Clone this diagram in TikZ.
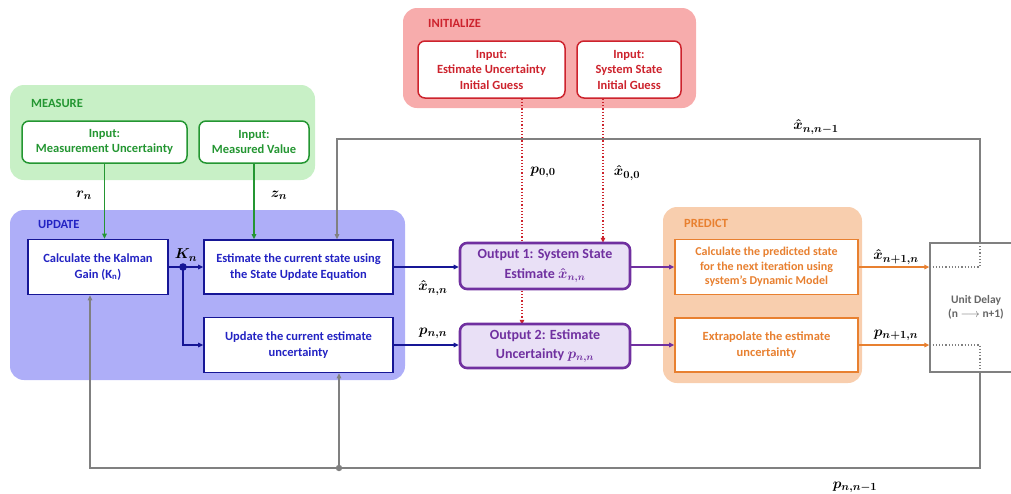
\documentclass[tikz,border=0pt]{standalone}
\usepackage[no-math]{fontspec}
\setmainfont{Carlito}
\usepackage{bm}
\usetikzlibrary{arrows.meta}
\definecolor{greenfill}{RGB}{200,240,198}
\definecolor{greenline}{RGB}{36,150,50}
\definecolor{redfill}{RGB}{247,172,172}
\definecolor{redline}{RGB}{205,35,45}
\definecolor{bluefill}{RGB}{174,174,248}
\definecolor{bluetext}{RGB}{35,35,195}
\definecolor{blueline}{RGB}{22,22,150}
\definecolor{purp}{RGB}{112,48,160}
\definecolor{purpfill}{RGB}{233,224,246}
\definecolor{orfill}{RGB}{248,206,174}
\definecolor{orline}{RGB}{232,128,48}
\definecolor{grayline}{RGB}{128,128,128}
\newcommand\boxfont{\bfseries\fontsize{12.5}{15.5}\selectfont}
\newcommand\regfont{\bfseries\fontsize{12.5}{14}\selectfont}
\newcommand\mathlbl{\fontsize{15.5}{17}\selectfont}
\tikzset{
  arr/.tip={Triangle[length=5pt,width=4.5pt]},
  region/.style={rounded corners=14pt},
  reglabel/.style={font=\regfont, anchor=west, inner sep=0pt},
  procbox/.style={draw, fill=white, line width=1.6pt, align=center, font=\boxfont, inner sep=1pt},
  inbox/.style={procbox, rounded corners=7pt, line width=1.5pt},
  outbox/.style={procbox, rounded corners=7pt, line width=2.6pt, draw=purp, fill=purpfill, text=purp, font=\bfseries\fontsize{14}{19.5}\selectfont},
  lbl/.style={font=\mathlbl, inner sep=0pt},
  conn/.style={line width=1.3pt},
}
\begin{document}
\begin{tikzpicture}[x=1pt,y=-1pt]
\useasboundingbox (0,0) rectangle (1011,493);
\clip (0,0) rectangle (1011,493);
% regions
\fill[greenfill, region] (10,85) rectangle (315,180);
\fill[redfill, region] (403,8) rectangle (696,108);
\fill[bluefill, region] (10,210) rectangle (405,380);
\fill[orfill, region] (663,207) rectangle (862,383);
\node[reglabel, text=greenline] (mlab) at (31,103) {MEASURE};
\node[reglabel, text=redline] (ilab) at (428,23) {INITIALIZE};
\node[reglabel, text=bluetext] (ulab) at (38,224) {UPDATE};
\node[reglabel, text=orline] (plab) at (684,223) {PREDICT};
% measure inputs
\node[inbox, draw=greenline, text=greenline, minimum width=165pt, minimum height=42pt] (m1) at (104.5,142) {Input:\\Measurement Uncertainty};
\node[inbox, draw=greenline, text=greenline, minimum width=110pt, minimum height=42pt] (m2) at (254,142) {Input:\\Measured Value};
% initialize inputs
\node[inbox, draw=redline, text=redline, minimum width=147pt, minimum height=57pt] (i1) at (491.5,69.5) {Input:\\Estimate Uncertainty\\Initial Guess};
\node[inbox, draw=redline, text=redline, minimum width=104pt, minimum height=57pt] (i2) at (629,69.5) {Input:\\System State\\Initial Guess};
% red dotted initial lines
\draw[redline, line width=1.2pt, dotted, -{arr}] ([xshift=30.5pt]i1.south) -- ++(0,226) coordinate (p0end);
\draw[redline, line width=1.2pt, dotted, -{arr}] ([xshift=-26pt]i2.south) -- ++(0,144) coordinate (x0end);
% update boxes
\node[procbox, draw=blueline, text=bluetext, minimum width=140pt, minimum height=55pt] (kal) at (98,267) {Calculate the Kalman\\Gain (K\textsubscript{n})};
\node[procbox, draw=blueline, text=bluetext, minimum width=189pt, minimum height=54pt] (est) at (298.5,267) {Estimate the current state using\\the State Update Equation};
\node[procbox, draw=blueline, text=bluetext, minimum width=189pt, minimum height=55pt] (upd) at (298.5,345) {Update the current estimate\\uncertainty};
% outputs
\node[outbox, minimum width=170pt, minimum height=46pt] (out1) at (545,266) {Output 1: System State\\Estimate $\bm{\hat{x}_{n,n}}$};
\node[outbox, minimum width=170pt, minimum height=44pt] (out2) at (545,346) {Output 2: Estimate\\Uncertainty $\bm{p_{n,n}}$};
% predict boxes
\node[procbox, draw=orline, text=orline, minimum width=183pt, minimum height=55pt, font=\bfseries\fontsize{12}{14.5}\selectfont] (pr1) at (766.5,267) {Calculate the predicted state\\for the next iteration using\\system’s Dynamic Model};
\node[procbox, draw=orline, text=orline, minimum width=183pt, minimum height=54pt] (pr2) at (766.5,345) {Extrapolate the estimate\\uncertainty};
% unit delay
\node[draw=grayline, line width=1.3pt, fill=white, minimum width=92pt, minimum height=129pt, align=center, text=black!60, font=\bfseries\fontsize{11.5}{13.5}\selectfont] (ud) at (976,307.5) {Unit Delay\\(n $\longrightarrow$ n+1)};
% coordinates
\coordinate (udtop) at (980,243);
\coordinate (udbot) at (980,372);
\coordinate (tr) at (980,139);
\coordinate (tl) at (337,139);
\coordinate (br) at (980,468);
\coordinate (bl) at (90,468);
\coordinate (bdot) at (339,468);
\coordinate (kdot) at (183,267);
% measure connectors
\draw[conn, greenline, -{arr}] (m1.south) -- (m1.south |- kal.north);
\draw[conn, greenline, -{arr}] (m2.south) -- (m2.south |- est.north);
% update connectors
\draw[conn, blueline, -{arr}] (kal.east) -- (est.west);
\draw[conn, blueline, -{arr}] (kdot) |- (upd.west);
\fill[blueline] (kdot) circle (3.8pt);
\draw[conn, blueline, -{arr}] (est.east) -- (est.east -| out1.west);
\draw[conn, blueline, -{arr}] (upd.east) -- (upd.east -| out2.west);
% purple connectors
\draw[conn, purp, -{arr}] (out1.east |- pr1.west) -- (pr1.west);
\draw[conn, purp, -{arr}] (out2.east |- pr2.west) -- (pr2.west);
% orange connectors
\draw[conn, orline, -{arr}] (pr1.east) -- (pr1.east -| ud.west);
\draw[conn, orline, -{arr}] (pr2.east) -- (pr2.east -| ud.west);
% inner dotted of unit delay
\draw[grayline, line width=1.2pt, dotted] (pr1.east -| ud.west) -| (udtop);
\draw[grayline, line width=1.2pt, dotted] (pr2.east -| ud.west) -| (udbot);
% feedback
\draw[conn, grayline, -{arr}] (udtop) -- (tr) -- (tl) -- (tl |- est.north);
\draw[conn, grayline, -{arr}] (udbot) -- (br) -- (bl) -- (bl |- kal.south);
\draw[conn, grayline, -{arr}] (bdot) -- (bdot |- upd.south);
\fill[grayline] (bdot) circle (3.2pt);
% math labels
\node[lbl] (lrn) at (84,195) {$\bm{r_n}$};
\node[lbl] (lzn) at (279,195) {$\bm{z_n}$};
\node[lbl] (lkn) at (186,255) {$\bm{K_n}$};
\node[lbl] (lp00) at (543,172) {$\bm{p_{0,0}}$};
\node[lbl] (lx00) at (627,173) {$\bm{\hat{x}_{0,0}}$};
\node[lbl] (lxpr) at (816,127) {$\bm{\hat{x}_{n,n-1}}$};
\node[lbl] (lxnn) at (433,288) {$\bm{\hat{x}_{n,n}}$};
\node[lbl] (lpnn) at (433,333) {$\bm{p_{n,n}}$};
\node[lbl] (lxn1) at (896,257) {$\bm{\hat{x}_{n+1,n}}$};
\node[lbl] (lpn1) at (896,335) {$\bm{p_{n+1,n}}$};
\node[lbl] (lppr) at (855,487) {$\bm{p_{n,n-1}}$};
\end{tikzpicture}
\end{document}
